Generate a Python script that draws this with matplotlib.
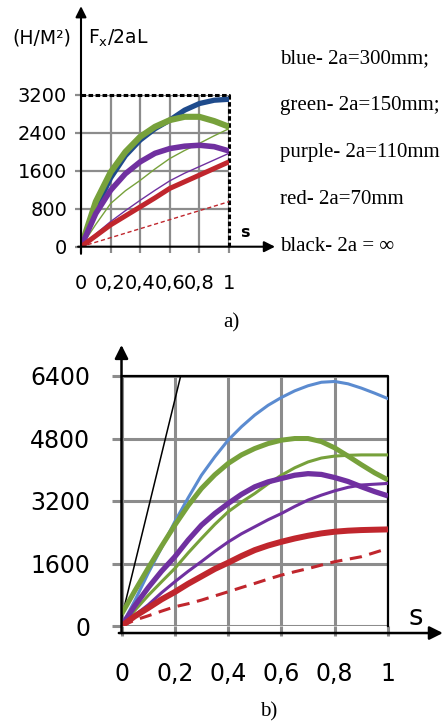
import matplotlib
matplotlib.use("Agg")
import matplotlib.pyplot as plt

s_a = [0, 0.1, 0.2, 0.3, 0.4, 0.5, 0.6, 0.7, 0.8, 0.9, 1.0]
s_b = [0, 0.05, 0.1, 0.15, 0.2, 0.25, 0.3, 0.35, 0.4, 0.45, 0.5,
       0.55, 0.6, 0.65, 0.7, 0.75, 0.8, 0.85, 0.9, 0.95, 1.0]

# chart a) (H/M^2)
blue_a = [0, 800, 1450, 1920, 2250, 2490, 2670, 2880, 3020, 3090, 3110]
green_a = [0, 950, 1570, 2000, 2320, 2530, 2670, 2740, 2740, 2650, 2530]
green_thin_a = [0, 470, 910, 1180, 1400, 1640, 1860, 2030, 2180, 2340, 2490]
purple_a = [0, 700, 1190, 1540, 1790, 1970, 2070, 2120, 2140, 2110, 2020]
purple_thin_a = [0, 270, 530, 760, 980, 1190, 1390, 1550, 1690, 1830, 1970]
red_a = [0, 230, 460, 650, 840, 1030, 1230, 1370, 1510, 1650, 1790]
red_dash_s_a = [0, 1.0]
red_dash_a = [0, 950]
black_s_a = [0, 1.0, 1.0]
black_a = [3200, 3200, 0]

# chart b)
blue_b = [0, 650, 1350, 2000, 2670, 3280, 3860, 4330, 4757, 5100, 5400,
          5650, 5850, 6020, 6150, 6240, 6260, 6200, 6090, 5960, 5820]
green_b = [300, 900, 1480, 2040, 2580, 3080, 3520, 3870, 4160, 4380, 4544,
           4670, 4757, 4800, 4800, 4720, 4560, 4350, 4130, 3920, 3740]
green_thin_b = [0, 400, 780, 1130, 1473, 1870, 2241, 2600, 2923, 3170, 3392,
                3640, 3860, 4050, 4200, 4300, 4350, 4370, 4380, 4380, 4380]
purple_b = [0, 520, 980, 1400, 1772, 2200, 2582, 2880, 3136, 3370, 3563,
            3690, 3776, 3860, 3900, 3880, 3800, 3700, 3565, 3440, 3330]
purple_thin_b = [0, 280, 540, 850, 1132, 1400, 1650, 1910, 2150, 2360, 2540,
                 2720, 2880, 3060, 3224, 3350, 3460, 3550, 3610, 3630, 3650]
red_b = [0, 250, 460, 680, 870, 1080, 1270, 1460, 1620, 1790, 1943,
         2060, 2156, 2240, 2311, 2371, 2414, 2440, 2456, 2465, 2473]
red_dash_b = [0, 150, 260, 380, 492, 570, 663, 770, 876, 985, 1090,
              1200, 1303, 1390, 1470, 1560, 1646, 1710, 1774, 1880, 1987]
black_s_b = [0, 0.222]
black_b = [200, 6400]

xticks = [0, 0.2, 0.4, 0.6, 0.8, 1]
xlabels = ["0", "0,2", "0,4", "0,6", "0,8", "1"]
yticks_a = [0, 800, 1600, 2400, 3200]
yticks_b = [0, 1600, 3200, 4800, 6400]

legend_lines = ["blue- 2a=300mm;", "green- 2a=150mm;", "purple- 2a=110mm",
                "red- 2a=70mm", "black- 2a = \u221e"]

W, H = 444, 724
fig = plt.figure(figsize=(W / 100, H / 100), dpi=100)
grid_col = "#8c8c8c"
serif = ["Liberation Serif", "DejaVu Serif"]


def box(x0, x1, y0, y1):
    return [x0 / W, 1 - y0 / H, (x1 - x0) / W, (y0 - y1) / H]


# ---------- a) ----------
ax = fig.add_axes(box(81, 229, 246.7, 95))
ax.set_xlim(0, 1)
ax.set_ylim(0, 3200)
for sp in ax.spines.values():
    sp.set_visible(False)
ax.set_xticks(xticks)
ax.set_xticklabels(xlabels)
ax.set_yticks(yticks_a)
ax.grid(True, color=grid_col, lw=1.6)
ax.set_axisbelow(True)
ax.tick_params(axis="both", direction="out", length=4, width=1.6, color=grid_col, labelsize=14)
ax.tick_params(axis="y", pad=6)
ax.tick_params(axis="x", pad=15.5)

ax.plot(black_s_a, black_a, color="k", lw=2.2, ls=(0, (1.5, 0.8)), clip_on=False)
ax.plot(s_a, blue_a, color="#1f4b8c", lw=3.8, solid_capstyle="butt")
ax.plot(s_a, green_a, color="#77a13b", lw=4.4, solid_capstyle="butt")
ax.plot(s_a, green_thin_a, color="#77a13b", lw=1.0)
ax.plot(s_a, purple_a, color="#7030a0", lw=4.0, solid_capstyle="butt")
ax.plot(s_a, purple_thin_a, color="#7030a0", lw=1.0)
ax.plot(s_a, red_a, color="#c0262d", lw=3.6, solid_capstyle="butt")
ax.plot(red_dash_s_a, red_dash_a, color="#c0262d", lw=1.0, ls=(0, (3, 2)))

arrow = dict(arrowstyle="-|>", color="k", lw=1.5, mutation_scale=16, shrinkA=0, shrinkB=0)
ax.annotate("", xy=(0, 5074), xytext=(0, -150), arrowprops=arrow, annotation_clip=False)
ax.annotate("", xy=(1.311, 0), xytext=(-0.02, 0), arrowprops=arrow, annotation_clip=False)
ax.text(1.105, 300, "s", fontsize=11.5, fontweight="bold", ha="center", va="center")

fig.text(12 / W, 1 - 38 / H, "(H/M\u00b2)", fontsize=13.5, ha="left", va="center")
fig.text(88 / W, 1 - 38 / H, r"F$_\mathregular{x}$/2aL", fontsize=13.5, ha="left", va="center")

for i, t in enumerate(legend_lines):
    fig.text(280 / W, 1 - (63 + 47 * i) / H, t, fontsize=15, family=serif,
             ha="left", va="baseline")
fig.text(231 / W, 1 - 323 / H, "a)", fontsize=15, family=serif, ha="center", va="center")

# ---------- b) ----------
bx = fig.add_axes(box(121.5, 388, 626, 376))
bx.set_xlim(0, 1)
bx.set_ylim(0, 6400)
for sp in bx.spines.values():
    sp.set_visible(False)
bx.set_xticks(xticks)
bx.set_xticklabels(xlabels)
bx.set_yticks(yticks_b)
bx.grid(True, color=grid_col, lw=2.2)
bx.set_axisbelow(True)
bx.tick_params(axis="both", direction="out", length=7, width=2.2, color=grid_col, labelsize=17)
bx.tick_params(axis="y", pad=15.5)
bx.tick_params(axis="x", pad=19)

bx.plot([0, 1, 1], [6400, 6400, 0], color="k", lw=1.6, clip_on=False)
bx.plot(black_s_b, black_b, color="k", lw=1.1)
bx.plot(s_b, blue_b, color="#5b8bd0", lw=2.2)
bx.plot(s_b, green_b, color="#77a13b", lw=3.6, solid_capstyle="butt")
bx.plot(s_b, green_thin_b, color="#77a13b", lw=2.2)
bx.plot(s_b, purple_b, color="#7030a0", lw=3.8, solid_capstyle="butt")
bx.plot(s_b, purple_thin_b, color="#7030a0", lw=2.2)
bx.plot(s_b, red_b, color="#c0262d", lw=4.3, solid_capstyle="butt")
bx.plot(s_b, red_dash_b, color="#c0262d", lw=2.2, ls=(0, (4, 2.5)))

arrow_b = dict(arrowstyle="-|>", color="k", lw=1.8, mutation_scale=20, shrinkA=0, shrinkB=0)
bx.annotate("", xy=(0, 7194), xytext=(0, -180), arrowprops=arrow_b, annotation_clip=False)
bx.annotate("", xy=(1.206, -180), xytext=(-0.01, -180), arrowprops=arrow_b, annotation_clip=False)
bx.text(1.105, 230, "s", fontsize=20, ha="center", va="center")

fig.text(269 / W, 1 - 712 / H, "b)", fontsize=15, family=serif, ha="center", va="center")

fig.savefig("out.png", dpi=100)
